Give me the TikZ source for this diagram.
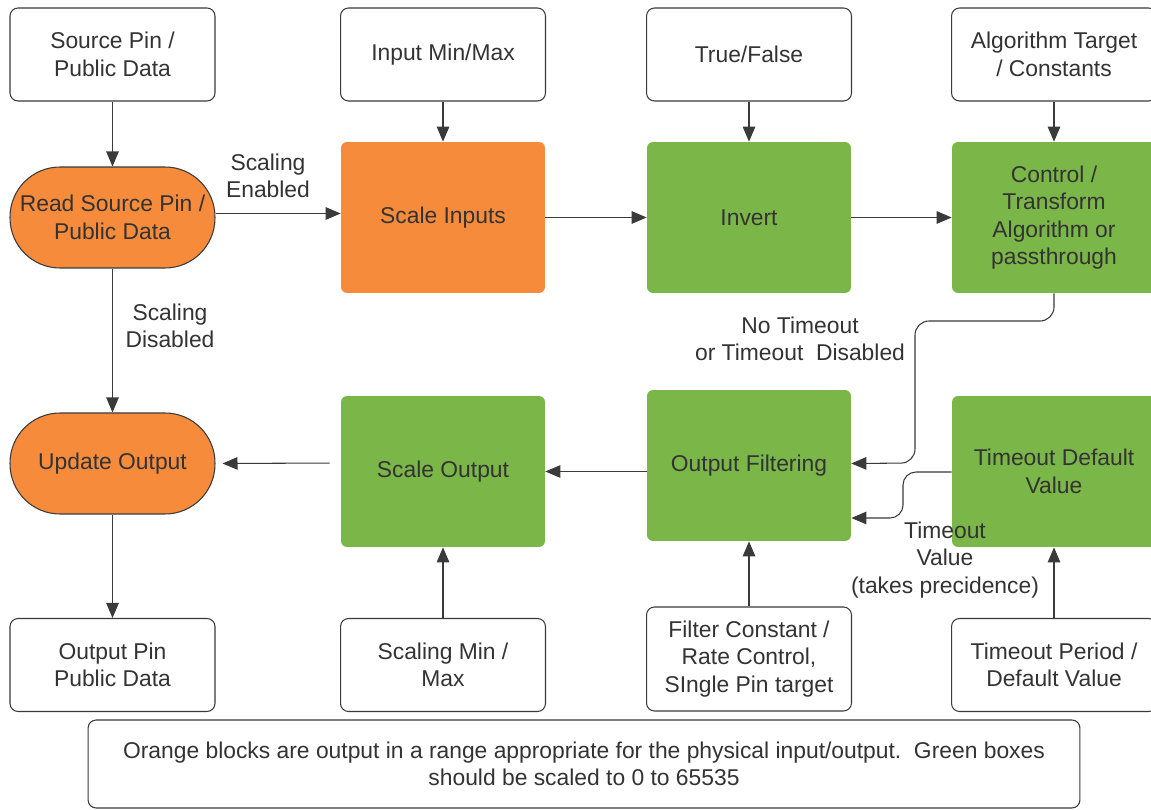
\documentclass[tikz,border=0pt]{standalone}
\usepackage{fontspec}
\setmainfont{Liberation Sans}
\usetikzlibrary{arrows.meta}
\definecolor{orng}{HTML}{F68B3C}
\definecolor{grn}{HTML}{7AB648}
\definecolor{txt}{HTML}{333333}
\definecolor{ln}{HTML}{3A3A3A}
\begin{document}
\begin{tikzpicture}[x=0.02cm,y=-0.02cm,
  every node/.style={font=\fontsize{13}{15.6}\selectfont, text=txt, align=center, inner sep=0pt},
  wbox/.style={draw=ln, line width=0.6pt, rounded corners=0.16cm, minimum width=4.1cm, minimum height=1.86cm, fill=white},
  gbox/.style={fill=grn, rounded corners=0.12cm, minimum width=4.08cm, minimum height=3.02cm},
  obox/.style={fill=orng, rounded corners=0.12cm, minimum width=4.08cm, minimum height=3.02cm},
  stad/.style={fill=orng, draw=ln, line width=0.6pt, rounded corners=1cm, minimum width=4.1cm, minimum height=2.02cm},
  arr/.style={draw=ln, line width=0.6pt, -{Triangle[length=0.3cm,width=0.25cm]}}]
\useasboundingbox (0,0) rectangle (1151,810);
\fill[white] (0,0) rectangle (1151,810);
% top row
\node[wbox] (src) at (112.5,54.5) {Source Pin /\\Public Data};
\node[wbox] (inmm) at (443,54.5) {Input Min/Max};
\node[wbox] (tf) at (749,54.5) {True/False};
\node[wbox] (alg) at (1054,54.5) {Algorithm Target\\/ Constants};
% second row
\node[stad] (read) at (112.5,217.5) {Read Source Pin /\\Public Data};
\node[obox] (scin) at (443,217.5) {Scale Inputs};
\node[gbox] (inv) at (749,217.5) {Invert};
\node[gbox] (ctrl) at (1054,217.5) {Control /\\Transform\\Algorithm or\\passthrough};
% third row
\node[stad] (upd) at (112.5,463.5) {Update Output};
\node[gbox] (scout) at (443,471.5) {Scale Output};
\node[gbox] (filt) at (749,465.5) {Output Filtering};
\node[gbox] (tdef) at (1054,471.5) {Timeout Default\\Value};
% bottom row
\node[wbox] (opin) at (112.5,665) {Output Pin\\Public Data};
\node[wbox] (smm) at (443,665) {Scaling Min /\\Max};
\node[wbox, minimum height=2.08cm] (fc) at (749,659) {Filter Constant /\\Rate Control,\\SIngle Pin target};
\node[wbox] (tper) at (1054,665) {Timeout Period /\\Default Value};
% note
\node[wbox, minimum width=19.84cm, minimum height=1.76cm] (note) at (584,764) {Orange blocks are output in a range appropriate for the physical input/output.\ \ Green boxes\\should be scaled to 0 to 65535};
% arrows
\draw[arr] (src) -- (read);
\draw[arr] (inmm) -- (scin);
\draw[arr] (tf) -- (inv);
\draw[arr] (alg) -- (ctrl);
\draw[arr] ([yshift=0.08cm]read.east) -- ([yshift=0.08cm]scin.west);
\draw[arr] (scin) -- (inv);
\draw[arr] (inv) -- (ctrl);
\draw[arr] (read) -- (upd);
\draw[arr, shorten <=0.22cm, shorten >=0.14cm] ([yshift=0.17cm]scout.west) -- (upd.east);
\draw[arr] (filt.west |- scout.east) -- (scout.east);
\draw[arr, rounded corners=0.28cm] (ctrl.south) -- (1054,321) -- (915,321) -- (915,463) -- ([yshift=0.04cm]filt.east);
\draw[arr, rounded corners=0.26cm] ([yshift=-0.01cm]tdef.west) -- (903,472) -- (903,518) -- ([yshift=-1.05cm]filt.east);
\draw[arr] (upd) -- (opin);
\draw[arr] (smm) -- (scout);
\draw[arr] (fc) -- (filt);
\draw[arr] (tper) -- (tdef);
% labels
\node (lse) at (268,176) {Scaling\\Enabled};
\node (lsd) at (170,326) {Scaling\\Disabled};
\node (lnt) at (800,339) {No Timeout\\or Timeout\ \ Disabled};
\node (ltv) at (945,560) {Timeout\\Value\\(takes precidence)};
\end{tikzpicture}
\end{document}
